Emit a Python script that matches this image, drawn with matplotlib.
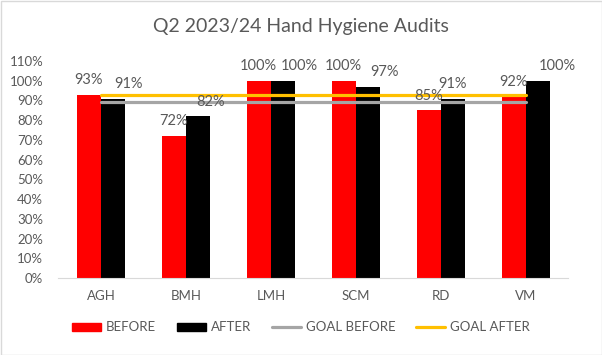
import matplotlib
matplotlib.use('Agg')
import matplotlib.pyplot as plt
from matplotlib.patches import Rectangle
from matplotlib.lines import Line2D
import numpy as np

plt.rcParams['font.family'] = ['Lato', 'DejaVu Sans']

# data
sites = ['AGH', 'BMH', 'LMH', 'SCM', 'RD', 'VM']
before = [0.93, 0.72, 1.00, 1.00, 0.85, 0.92]
after = [0.91, 0.82, 1.00, 0.97, 0.91, 1.00]
goal_before = [0.89] * len(sites)
goal_after = [0.93] * len(sites)
y_ticks = np.arange(0, 1.11, 0.1)

# nudges (points) for the AFTER labels, as placed in the original
after_dx = [11, 9, 12, 12, 0, 14]

grey_text = '#595959'

fig = plt.figure(figsize=(6.02, 3.55), dpi=100)
ax = fig.add_axes([0.097, 0.217, 0.847, 0.611])

x = np.arange(len(sites))
w = 0.285
ax.bar(x - w / 2, before, w, color='#FF0000', label='BEFORE')
ax.bar(x + w / 2, after, w, color='#000000', label='AFTER')
ax.plot(x, goal_before, color='#A5A5A5', linewidth=2.3, solid_capstyle='round')
ax.plot(x, goal_after, color='#FFC000', linewidth=2.3, solid_capstyle='round')

for i in range(len(sites)):
    ax.annotate(f'{before[i]*100:.0f}%', (x[i] - w / 2, before[i]), xytext=(0, 10.5),
                textcoords='offset points', ha='center', va='center',
                fontsize=10.5, color=grey_text)
    ax.annotate(f'{after[i]*100:.0f}%', (x[i] + w / 2, after[i]), xytext=(after_dx[i], 10.5),
                textcoords='offset points', ha='center', va='center',
                fontsize=10.5, color=grey_text)

ax.set_xlim(-0.5, len(sites) - 0.5)
ax.set_ylim(0, 1.1)
ax.set_yticks(y_ticks)
ax.set_yticklabels([f'{v*100:.0f}%' for v in y_ticks])
ax.set_xticks(x)
ax.set_xticklabels(sites)
ax.tick_params(length=0, colors=grey_text, labelsize=9.5)
ax.tick_params(axis='x', pad=9)
ax.tick_params(axis='y', pad=11)
for side in ['top', 'right', 'left']:
    ax.spines[side].set_visible(False)
ax.spines['bottom'].set_color('#D9D9D9')

fig.suptitle('Q2 2023/24 Hand Hygiene Audits', y=0.95, fontsize=14, color=grey_text)

handles = [
    Rectangle((0, 0), 1, 1, color='#FF0000'),
    Rectangle((0, 0), 1, 1, color='#000000'),
    Line2D([], [], color='#A5A5A5', linewidth=2.3, solid_capstyle='round'),
    Line2D([], [], color='#FFC000', linewidth=2.3, solid_capstyle='round'),
]
fig.legend(handles, ['BEFORE', 'AFTER', 'GOAL BEFORE', 'GOAL AFTER'],
           loc='center', bbox_to_anchor=(0.5, 0.078), ncol=4, frameon=False,
           fontsize=9.5, labelcolor=grey_text, handlelength=2.2, handleheight=0.55,
           handletextpad=0.35, columnspacing=1.6)

fig.patches.append(Rectangle((0.5 / 602, 0.5 / 355), 1 - 1 / 602, 1 - 1 / 355,
                             transform=fig.transFigure, fill=False,
                             edgecolor='#D9D9D9', linewidth=1))

plt.savefig('out.png', dpi=100)
